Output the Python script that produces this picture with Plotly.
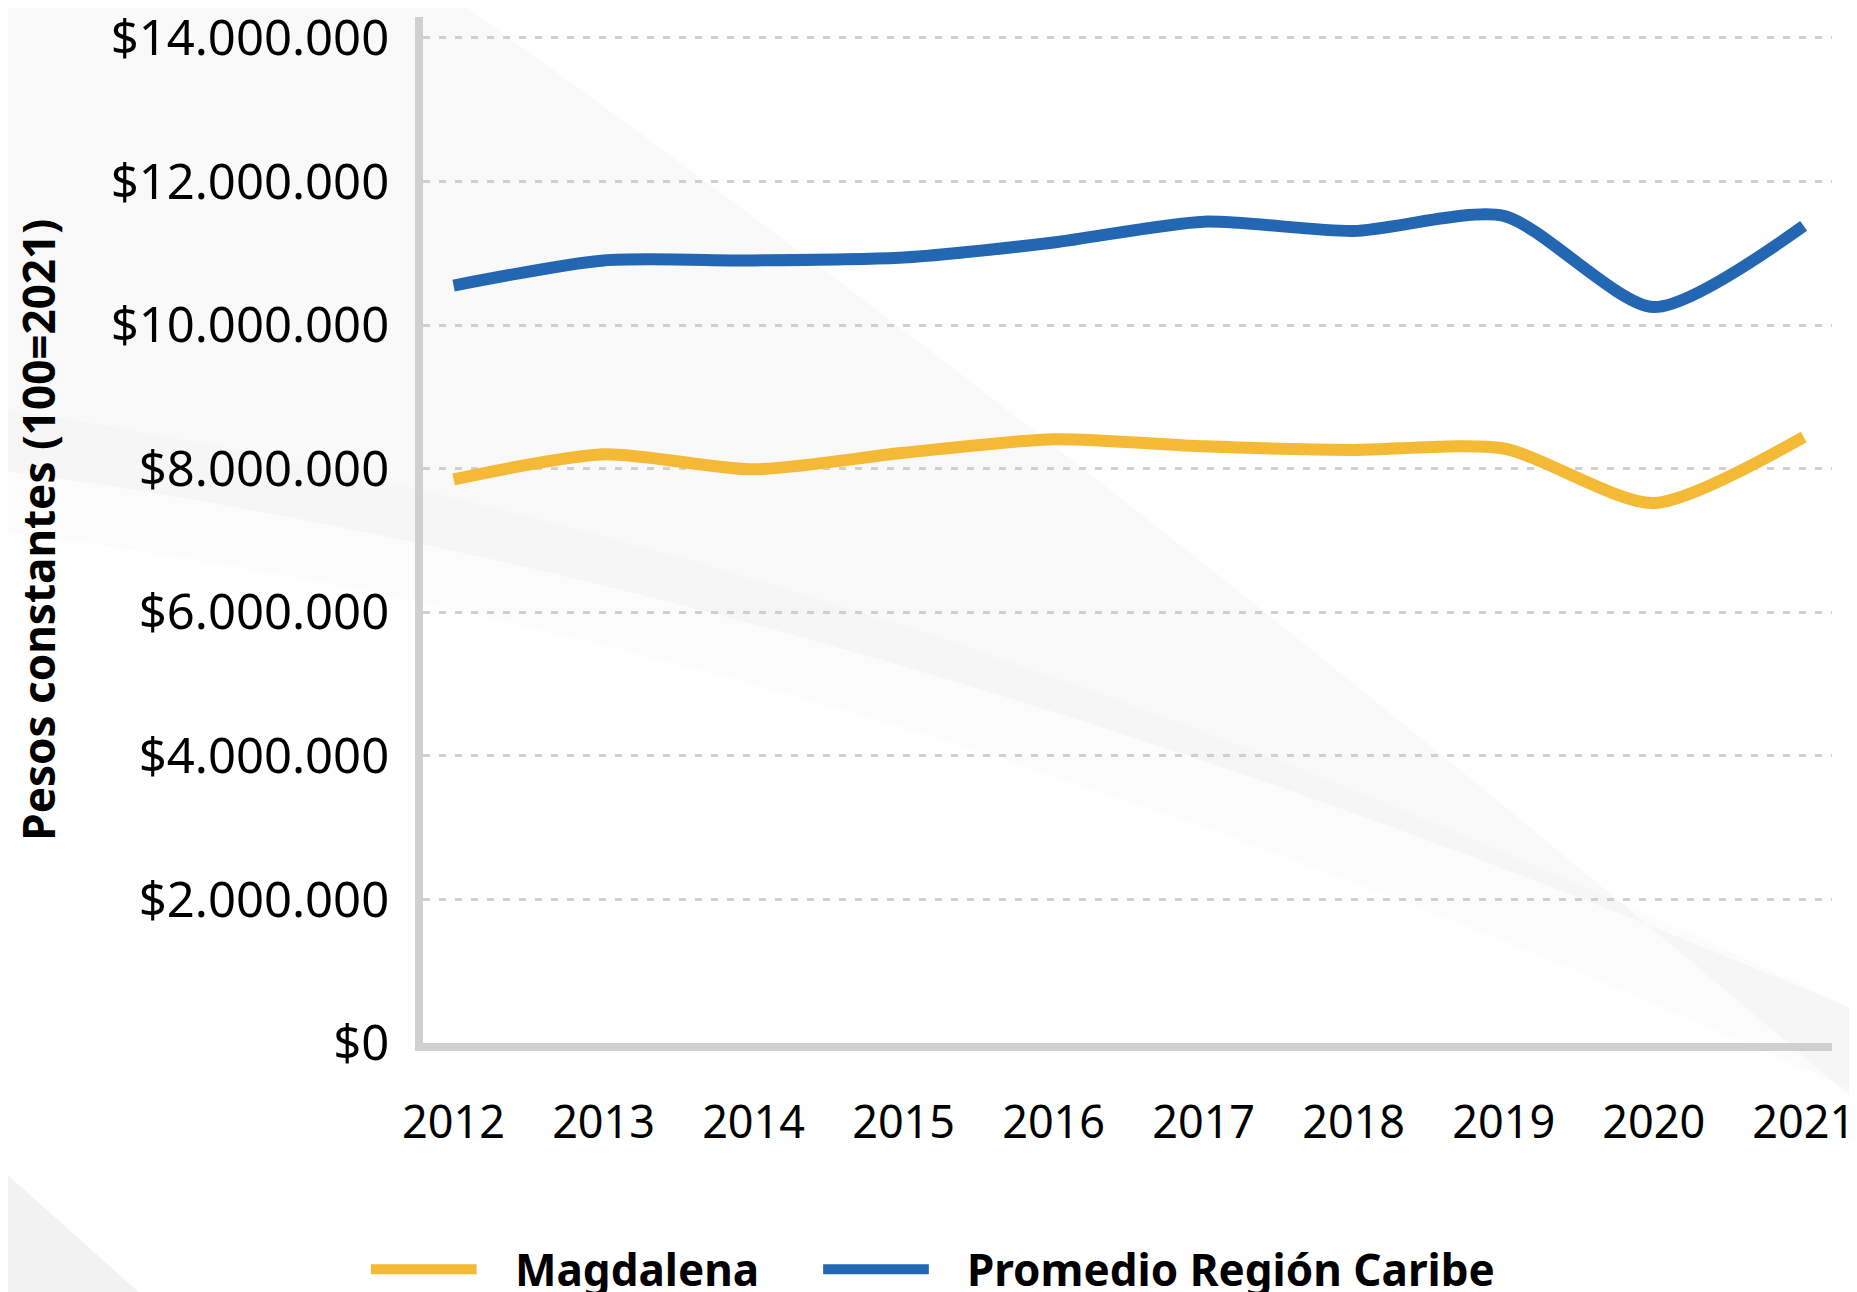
import plotly.graph_objects as go

# Datos (pesos constantes, 100=2021)
anios = [2012, 2013, 2014, 2015, 2016, 2017, 2018, 2019, 2020, 2021]
magdalena = [7850000, 8200000, 7990000, 8220000, 8410000, 8310000, 8260000, 8280000, 7520000, 8440000]
caribe = [10550000, 10900000, 10900000, 10940000, 11150000, 11440000, 11310000, 11520000, 10250000, 11380000]

y_ticks = [0, 2000000, 4000000, 6000000, 8000000, 10000000, 12000000, 14000000]
y_labels = ["$0", "$2.000.000", "$4.000.000", "$6.000.000", "$8.000.000",
            "$10.000.000", "$12.000.000", "$14.000.000"]

series = [("Magdalena", magdalena, "#F4B935"),
          ("Promedio Región Caribe", caribe, "#2366B1")]

GRIS = "#D0D0D0"
FUENTE = "Noto Sans"

fig = go.Figure()

for nombre, valores, color in series:
    fig.add_trace(go.Scatter(
        x=anios, y=valores, mode="lines", name=nombre, showlegend=False,
        line=dict(color=color, width=12, shape="spline", smoothing=0.7),
    ))

# Fondo decorativo (franjas grises suaves)
fig.add_shape(type="path", xref="paper", yref="paper", layer="below",
              path="M -0.31,1.02 L 0.02,1.02 Q 0.5,0.55 1.02,-0.06 L 1.02,0.03 Q 0.3,0.45 -0.31,0.56 Z",
              fillcolor="rgba(0,0,0,0.022)", line=dict(width=0))
fig.add_shape(type="path", xref="paper", yref="paper", layer="below",
              path="M -0.31,0.62 Q 0.3,0.5 1.02,0.03 L 1.02,-0.05 Q 0.3,0.4 -0.31,0.5 Z",
              fillcolor="rgba(0,0,0,0.012)", line=dict(width=0))
fig.add_shape(type="path", xref="paper", yref="paper", layer="below",
              path="M -0.31,-0.11 L -0.2,-0.245 L -0.31,-0.245 Z",
              fillcolor="rgba(0,0,0,0.05)", line=dict(width=0))

# Título del eje Y
fig.add_annotation(
    text="Pesos constantes (100=2021)", xref="paper", yref="paper",
    x=-0.2735, y=0.5, xanchor="center", yanchor="middle", textangle=-90,
    showarrow=False, font=dict(family=FUENTE, size=44, color="black", weight="bold"),
)

# Leyenda inferior
leyenda_x = [(-0.037, 0.038, 0.064), (0.284, 0.359, 0.385)]
for (nombre, _, color), (x0, x1, xt) in zip(series, leyenda_x):
    fig.add_shape(type="line", xref="paper", yref="paper",
                  x0=x0, x1=x1, y0=-0.2205, y1=-0.2205,
                  line=dict(color=color, width=10))
    fig.add_annotation(
        text=nombre, xref="paper", yref="paper", x=xt, y=-0.2205,
        xanchor="left", yanchor="middle", showarrow=False,
        font=dict(family=FUENTE, size=44, color="black", weight="bold"),
    )

fig.update_layout(
    width=1849, height=1284,
    margin=dict(l=415, r=25, t=9, b=249),
    paper_bgcolor="white",
    plot_bgcolor="rgba(0,0,0,0)",
    font=dict(family=FUENTE, color="black"),
    showlegend=False,
)
fig.update_xaxes(
    range=[2011.796, 2021.189], tickvals=anios, ticktext=[str(a) for a in anios],
    showgrid=False, showline=True, linecolor=GRIS, linewidth=8,
    ticks="", ticklabelstandoff=33, tickfont=dict(size=45, family=FUENTE),
    ticklabeloverflow="allow",
    zeroline=False, automargin=False,
)
fig.update_yaxes(
    range=[0, 14290000], tickvals=y_ticks, ticktext=y_labels,
    showgrid=True, gridcolor=GRIS, gridwidth=3, griddash="7px,9px",
    showline=True, linecolor=GRIS, linewidth=8,
    ticks="", ticklabelstandoff=16, tickfont=dict(size=49, family=FUENTE),
    ticklabeloverflow="allow",
    zeroline=False, automargin=False,
)

fig.write_html("out.html")
